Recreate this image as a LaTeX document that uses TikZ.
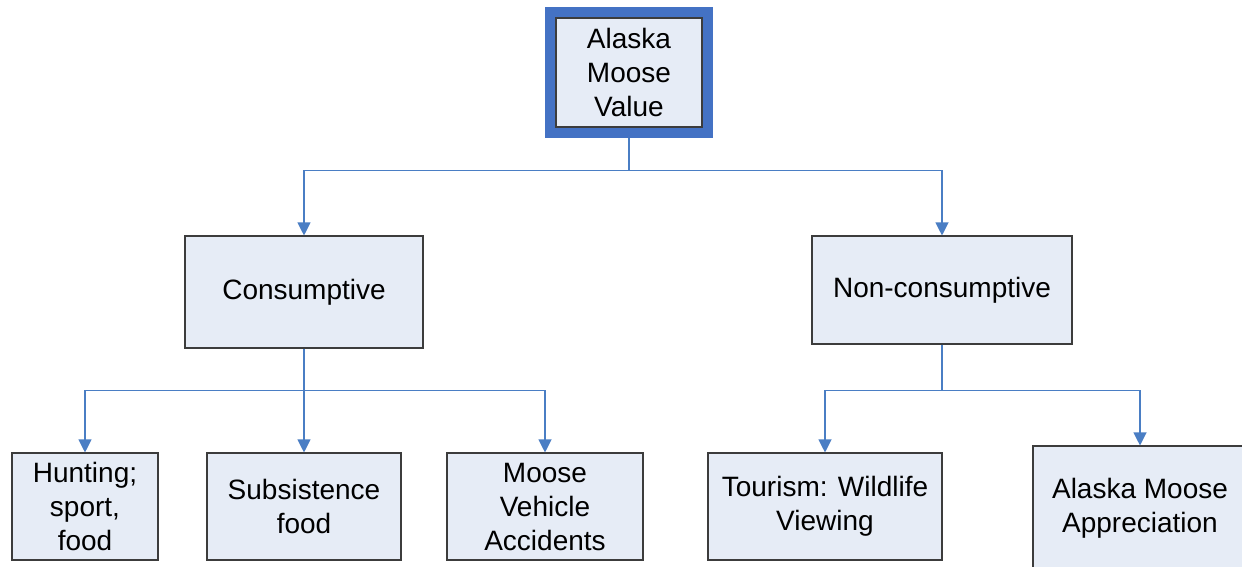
\documentclass[tikz,border=0pt]{standalone}
\usepackage{fontspec}
\setmainfont{Liberation Sans}
\usetikzlibrary{arrows.meta,calc}
\definecolor{lineblue}{RGB}{74,126,196}
\definecolor{frameblue}{RGB}{68,114,196}
\definecolor{boxfill}{RGB}{230,236,246}
\definecolor{boxedge}{RGB}{60,60,60}
\tikzset{
  box/.style={draw=boxedge, line width=1.1pt, fill=boxfill, align=center,
    inner sep=0pt, font=\fontsize{28}{34}\selectfont},
  conn/.style={draw=lineblue, line width=1.1pt,
    -{Triangle[width=13pt,length=13pt]}},
  plain/.style={draw=lineblue, line width=1.1pt},
  topframe/.style={draw=frameblue, line width=10pt}
}
\begin{document}
\begin{tikzpicture}[x=1pt,y=-1pt]
\useasboundingbox (0,0) rectangle (1242,566);
\fill[white] (0,0) rectangle (1242,566);
% nodes
\node[box, minimum width=146pt, minimum height=109pt] (top) at (629,72.5) {Alaska\\Moose\\Value};
\node[box, minimum width=238pt, minimum height=112pt] (cons) at (304,292) {Consumptive};
\node[box, minimum width=260pt, minimum height=108pt] (noncons) at (942,290) {Non-consumptive};
\node[box, minimum width=146pt, minimum height=107pt] (hunt) at (85,506.5) {Hunting;\\sport,\\food};
\node[box, minimum width=194pt, minimum height=107pt] (subs) at (304,506.5) {Subsistence\\food};
\node[box, minimum width=196pt, minimum height=107pt] (veh) at (545,506.5) {Moose\\Vehicle\\Accidents};
\node[box, minimum width=234pt, minimum height=107pt] (tour) at (825,506.5) {Tourism: Wildlife\\Viewing};
\node[box, minimum width=214pt, minimum height=124pt] (appr) at (1140,508) {Alaska Moose\\Appreciation};
% frame around top
\draw[topframe] ($(top.north west)+(-5,-5)$) rectangle ($(top.south east)+(5,5)$);
% junctions
\coordinate (j1) at ($(top.south)+(0,43)$);
\coordinate (j2) at ($(cons.south)+(0,42)$);
\coordinate (j3) at ($(noncons.south)+(0,46)$);
% connectors
\draw[plain] ($(top.south)+(0,10)$) -- (j1);
\draw[conn] (j1) -| (cons.north);
\draw[conn] (j1) -| (noncons.north);
\draw[conn] (cons.south) -- (subs.north);
\draw[conn] (j2) -| (hunt.north);
\draw[conn] (j2) -| (veh.north);
\draw[plain] (noncons.south) -- (j3);
\draw[conn] (j3) -| (tour.north);
\draw[conn] (j3) -| (appr.north);
\end{tikzpicture}
\end{document}
